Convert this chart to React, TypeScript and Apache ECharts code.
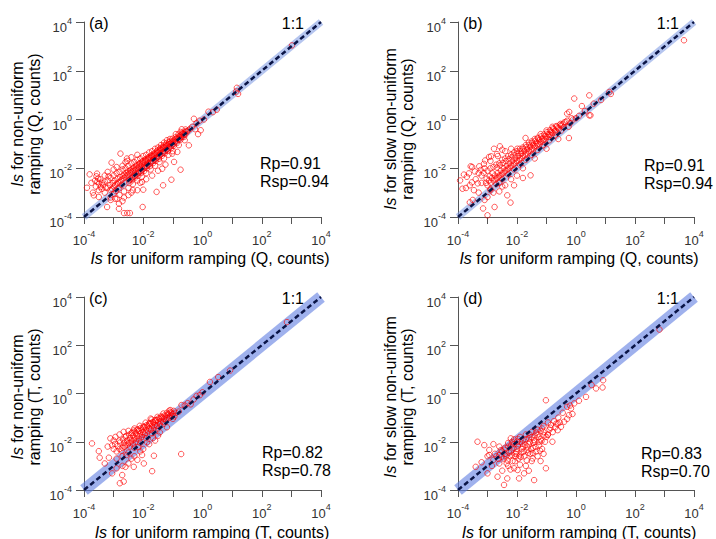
import React, { useEffect, useRef } from 'react';
import * as echarts from 'echarts';

const FONT = '"Liberation Sans", Arial, Helvetica, sans-serif';

// ---- text content ----
const panelLabels = ['(a)', '(b)', '(c)', '(d)'];
const xTitleRest = [
  ' for uniform ramping (Q, counts)',
  ' for uniform ramping (Q, counts)',
  ' for uniform ramping (T, counts)',
  ' for uniform ramping (T, counts)',
];
const yTitleLine1Rest = [' for non-uniform', ' for slow non-uniform', ' for non-uniform', ' for slow non-uniform'];
const yTitleLine2 = ['ramping (Q, counts)', 'ramping (Q, counts)', 'ramping (T, counts)', 'ramping (T, counts)'];
const rpValues = ['0.91', '0.91', '0.82', '0.83'];
const rspValues = ['0.94', '0.94', '0.78', '0.70'];

// ---- axes (log10 exponents) ----
const axisMin = -4;
const axisMax = 4;
const oneToOne: [number, number][] = [[-4, -4], [4, 4]];

// ---- data: [log10(x), log10(y)] ----
const panelA: [number, number][] = [
  [-0.42,-0.38],[-0.48,-0.45],[-0.52,-0.5],[-0.55,-0.48],[-0.58,-0.6],[-0.6,-0.52],[-0.63,-0.62],[-0.66,-0.58],[-0.68,-0.7],[-0.7,-0.62],
  [-0.73,-0.72],[-0.76,-0.66],[-0.78,-0.8],[-0.8,-0.7],[-0.83,-0.82],[-0.86,-0.76],[-0.88,-0.9],[-0.9,-0.8],[-0.93,-0.92],[-0.96,-0.85],
  [-0.98,-1.0],[-1.0,-0.9],[-1.03,-1.05],[-1.05,-0.95],[-1.08,-1.1],[-1.1,-1.0],[-1.12,-1.15],[-1.15,-1.02],[-1.18,-1.2],[-1.2,-1.08],
  [-1.22,-1.25],[-1.25,-1.12],[-1.28,-1.3],[-1.3,-1.15],[-1.33,-1.35],[-1.35,-1.2],[-1.38,-1.4],[-1.4,-1.25],[-1.43,-1.45],[-1.45,-1.3],
  [-1.48,-1.5],[-1.5,-1.35],[-1.53,-1.55],[-1.55,-1.4],[-1.58,-1.6],[-1.6,-1.45],[-1.63,-1.65],[-1.65,-1.5],[-1.68,-1.7],[-1.7,-1.52],
  [-1.73,-1.75],[-1.75,-1.58],[-1.78,-1.8],[-1.8,-1.6],[-1.83,-1.85],[-1.85,-1.65],[-1.88,-1.9],[-1.9,-1.7],[-1.93,-1.95],[-1.95,-1.75],
  [-1.98,-2.0],[-2.0,-1.8],[-2.03,-2.05],[-2.05,-1.85],[-2.08,-2.1],[-2.1,-1.9],[-2.13,-2.15],[-2.15,-1.95],[-2.18,-2.2],[-2.2,-2.0],
  [-2.23,-2.25],[-2.25,-2.05],[-2.28,-2.3],[-2.3,-2.08],[-2.33,-2.35],[-2.35,-2.12],[-2.38,-2.4],[-2.4,-2.15],[-2.43,-2.45],[-2.45,-2.2],
  [-2.48,-2.5],[-2.5,-2.25],[-2.55,-2.3],[-2.6,-2.35],[-2.65,-2.4],[-2.7,-2.45],[-2.75,-2.5],[-2.8,-2.55],[-2.85,-2.6],[-2.9,-2.65],
  [-2.95,-2.7],[-3.0,-2.75],[-3.05,-2.85],[-3.1,-2.9],
  [-0.7,-0.4],[-0.9,-0.6],[-1.1,-0.8],[-1.2,-0.85],[-1.3,-0.95],[-1.4,-1.05],[-1.5,-1.15],[-1.6,-1.2],[-1.7,-1.3],[-1.8,-1.35],
  [-1.9,-1.45],[-2.0,-1.5],[-2.1,-1.6],[-2.2,-1.65],[-2.3,-1.75],[-2.4,-1.8],[-2.5,-1.9],[-2.6,-2.0],[-2.7,-2.05],[-2.8,-2.15],
  [-2.9,-2.2],[-3.0,-2.3],[-3.1,-2.4],[-3.2,-2.5],[-3.3,-2.55],[-3.4,-2.6],
  [-0.6,-0.85],[-0.8,-1.05],[-1.0,-1.3],[-1.15,-1.45],[-1.3,-1.6],[-1.45,-1.75],[-1.6,-1.9],[-1.75,-2.05],[-1.9,-2.2],[-2.05,-2.35],
  [-2.2,-2.5],[-2.35,-2.65],[-2.5,-2.8],[-2.65,-2.95],[-2.8,-3.1],[-2.95,-3.25],[-3.1,-3.3],
  [-2.6,-1.75],[-2.7,-1.9],[-2.9,-1.95],[-3.0,-2.05],[-3.2,-2.15],[-3.3,-2.3],[-3.45,-2.45],[-3.55,-2.55],[-3.6,-2.75],[-3.75,-2.6],
  [-3.4,-2.85],[-3.3,-3.0],[-3.2,-2.8],[-3.5,-2.9],[-3.7,-3.0],[-2.55,-1.6],[-2.4,-1.55],[-2.2,-1.45],[-2.35,-2.9],[-2.5,-3.1],
  [-2.65,-3.2],[-2.7,-3.35],[-3.0,-3.05],[-3.1,-3.2],[-2.4,-3.0],[-2.1,-2.6],[-1.9,-2.45],[-1.7,-2.3],[-1.5,-2.1],[-1.25,-1.85],
  [-0.29,0.03],[-0.06,-0.44],[-0.74,-0.51],[-0.46,-1.06],[-0.85,-1.33],[-1.02,-1.4],[-0.96,-1.74],[-0.74,-2.06],[-1.36,-2.02],[-1.05,-2.47],
  [-1.33,-2.7],[-1.55,-2.97],[-2.0,-2.88],[-2.02,-3.59],[-2.77,-1.4],[-3.07,-1.77],[-2.54,-1.7],[-3.81,-2.25],[-3.56,-2.22],[-3.58,-2.33],
  [-3.9,-2.8],[-3.5,-2.63],[-3.67,-3.11],[-3.5,-3.18],[-3.22,-3.59],[-2.82,-3.45],[-2.82,-3.66],[-2.65,-3.84],[-2.54,-3.84],[-2.45,-3.84],
  [-2.88,-3.25],[-2.2,-2.9],[-2.04,-2.56],
  [-0.2,-0.15],[-0.1,-0.05],[0.05,0.0],[-0.35,-0.3],[0.2,0.32],[0.35,0.3],[0.48,0.4],[1.16,1.3],[1.2,1.05],[1.14,1.15],
  [3.02,3.04],[-0.25,-0.4],[-0.15,-0.6],
  [-0.57,-0.41],[-0.62,-0.71],[-0.69,-0.55],[-0.74,-0.83],[-0.81,-0.61],[-0.87,-0.97],[-0.91,-0.73],[-0.97,-1.08],[-1.01,-0.79],[-1.06,-1.17],
  [-1.09,-0.88],[-1.13,-0.93],[-1.17,-1.29],[-1.21,-0.97],[-1.24,-1.04],[-1.27,-1.38],[-1.31,-1.07],[-1.34,-1.13],[-1.37,-1.49],[-1.41,-1.17],
  [-1.44,-1.22],[-1.47,-1.61],[-1.51,-1.26],[-1.54,-1.31],[-1.57,-1.69],[-1.61,-1.37],[-1.64,-1.43],[-1.67,-1.79],[-1.71,-1.46],[-1.74,-1.49],
  [-1.77,-1.91],[-1.81,-1.55],[-1.84,-1.58],[-1.87,-2.0],[-1.91,-1.62],[-1.94,-1.66],[-1.97,-2.11],[-2.01,-1.71],[-2.04,-1.74],[-2.07,-2.19],
  [-2.11,-1.79],[-2.14,-1.83],[-2.17,-2.31],[-2.21,-1.87],[-2.24,-1.91],[-2.27,-2.38],[-2.31,-1.97],[-2.34,-2.01],[-2.37,-2.49],[-2.41,-2.05],
  [-2.44,-2.09],[-2.47,-2.61],[-2.51,-2.13],[-2.57,-2.19],[-2.63,-2.27],[-2.69,-2.31],[-2.73,-2.69],[-2.78,-2.36],[-2.83,-2.83],[-2.87,-2.43],
  [-2.93,-2.93],[-2.97,-2.51],[-3.03,-2.61],[-3.13,-2.69],[-3.17,-2.33],[-3.27,-2.79],[-3.36,-2.68],[-3.44,-2.77],[-3.52,-2.42],[-3.63,-2.51],
];

const panelB: [number, number][] = [
  [-0.3,-0.05],[-0.35,-0.1],[-0.4,-0.12],[-0.45,-0.2],[-0.5,-0.25],[-0.55,-0.22],[-0.6,-0.35],[-0.65,-0.3],[-0.7,-0.45],[-0.75,-0.4],
  [-0.8,-0.55],[-0.85,-0.5],[-0.9,-0.62],[-0.95,-0.6],[-1.0,-0.72],[-1.05,-0.68],[-1.1,-0.82],[-1.15,-0.78],[-1.2,-0.92],[-1.25,-0.85],
  [-1.3,-1.0],[-1.35,-0.95],[-1.4,-1.1],[-1.45,-1.05],[-1.5,-1.2],[-1.55,-1.12],[-1.6,-1.3],[-1.65,-1.22],[-1.7,-1.4],[-1.75,-1.3],
  [-1.8,-1.5],[-1.85,-1.4],[-1.9,-1.6],[-1.95,-1.5],[-2.0,-1.7],[-2.05,-1.6],[-2.1,-1.8],[-2.15,-1.7],[-2.2,-1.9],[-2.25,-1.8],
  [-2.3,-2.0],[-2.35,-1.9],[-2.4,-2.1],[-2.45,-2.0],[-2.5,-2.2],[-2.55,-2.1],[-2.6,-2.3],[-2.65,-2.2],[-2.7,-2.4],[-2.75,-2.3],
  [-2.8,-2.5],[-2.85,-2.4],[-2.9,-2.6],[-2.95,-2.5],[-3.0,-2.7],[-3.05,-2.6],
  [-0.5,-0.45],[-0.7,-0.65],[-0.9,-0.85],[-1.1,-1.05],[-1.3,-1.25],[-1.5,-1.45],[-1.7,-1.65],[-1.9,-1.85],[-2.1,-2.05],[-2.3,-2.25],
  [-2.5,-2.45],[-2.7,-2.65],[-2.9,-2.85],[-0.2,-0.15],[-0.1,0.0],[0.0,0.05],[-0.25,-0.3],
  [-0.8,-0.3],[-1.0,-0.45],[-1.2,-0.6],[-1.4,-0.8],[-1.6,-0.95],[-1.8,-1.15],[-2.0,-1.3],[-2.2,-1.45],[-2.4,-1.6],[-2.6,-1.8],
  [-2.8,-1.95],[-3.0,-2.1],[-3.2,-2.3],[-1.3,-0.75],[-1.5,-0.9],[-1.7,-1.05],[-1.9,-1.2],[-2.1,-1.35],[-2.3,-1.5],[-2.5,-1.65],
  [-2.7,-1.85],[-2.9,-2.0],
  [-0.6,-0.8],[-1.0,-1.2],[-1.4,-1.6],[-1.8,-2.0],[-2.2,-2.45],[-2.5,-2.75],[-2.8,-3.0],[-3.1,-3.3],[-2.0,-2.3],[-2.6,-2.95],
  [-3.8,-2.26],[-3.93,-2.5],[-3.57,-1.92],[-3.52,-1.95],[-3.85,-2.84],[-3.46,-2.9],[-3.0,-3.18],[-2.76,-3.59],[-2.22,-3.41],[-3.0,-3.93],
  [-2.33,-3.11],[-2.95,-1.54],[-3.12,-1.82],[-2.78,-1.2],[-2.5,-1.24],[-1.99,-1.2],[-1.71,-0.76],[-1.54,-2.29],[-3.3,-2.2],[-3.4,-2.45],
  [-3.2,-2.6],[-3.6,-2.7],[-3.7,-2.35],[-3.1,-2.0],[-2.9,-1.7],[-2.65,-1.5],[-2.4,-1.3],[-2.2,-1.2],[-2.6,-2.6],[-2.4,-2.7],
  [-3.3,-3.0],[-2.9,-2.9],[-3.5,-3.3],[-2.1,-2.7],[-1.8,-2.4],[-3.15,-3.65],[-3.6,-3.4],
  [3.66,3.25],[1.13,1.13],[1.18,1.05],[-0.06,0.86],[0.45,0.99],[0.45,0.17],[-0.23,0.31],[0.2,0.55],[-0.3,0.24],[0.49,0.17],
  [-0.24,-0.76],[0.1,0.15],[0.3,0.35],[0.6,0.65],[0.85,0.8],[-0.15,0.05],
  [-0.42,-0.31],[-0.52,-0.18],[-0.58,-0.41],[-0.67,-0.27],[-0.72,-0.53],[-0.78,-0.36],[-0.83,-0.64],[-0.88,-0.44],[-0.93,-0.71],[-0.98,-0.52],
  [-1.03,-0.81],[-1.08,-0.61],[-1.13,-0.9],[-1.18,-0.69],[-1.23,-1.01],[-1.28,-0.78],[-1.33,-1.09],[-1.38,-0.87],[-1.43,-1.19],[-1.48,-0.96],
  [-1.53,-1.28],[-1.58,-1.04],[-1.63,-1.39],[-1.68,-1.13],[-1.73,-1.47],[-1.78,-1.21],[-1.83,-1.58],[-1.88,-1.29],[-1.93,-1.67],[-1.98,-1.37],
  [-2.03,-1.77],[-2.08,-1.46],[-2.13,-1.86],[-2.18,-1.55],[-2.23,-1.97],[-2.28,-1.63],[-2.33,-2.06],[-2.38,-1.71],[-2.43,-2.17],[-2.48,-1.79],
  [-2.53,-2.27],[-2.58,-1.88],[-2.63,-2.36],[-2.68,-1.97],[-2.73,-2.46],[-2.83,-2.21],[-2.93,-2.33],[-3.03,-2.43],[-3.13,-2.19],[-3.23,-2.07],
  [-3.33,-2.62],[-3.43,-2.13],[-3.53,-2.58],[-3.63,-2.21],[-3.73,-2.81],[-3.28,-1.92],[-3.08,-1.68],[-2.88,-1.51],[-2.68,-1.42],[-2.58,-1.1],
];

const panelC: [number, number][] = [
  [-1.0,-0.85],[-1.05,-0.8],[-1.1,-0.95],[-1.15,-0.85],[-1.2,-1.0],[-1.25,-0.95],[-1.3,-1.05],[-1.35,-1.0],[-1.4,-1.15],[-1.45,-1.05],
  [-1.5,-1.2],[-1.55,-1.1],[-1.6,-1.3],[-1.65,-1.2],[-1.7,-1.35],[-1.75,-1.25],[-1.8,-1.45],[-1.85,-1.35],[-1.9,-1.5],[-1.95,-1.4],
  [-2.0,-1.6],[-2.05,-1.5],[-2.1,-1.65],[-2.15,-1.55],[-2.2,-1.75],[-2.25,-1.65],[-2.3,-1.85],[-2.35,-1.75],[-2.4,-1.95],[-2.45,-1.85],
  [-2.5,-2.05],[-2.55,-1.95],[-2.6,-2.15],[-2.65,-2.05],[-2.7,-2.25],[-2.8,-2.3],[-2.9,-2.4],[-1.3,-1.25],[-1.5,-1.45],[-1.7,-1.65],
  [-1.9,-1.85],[-2.1,-2.05],[-2.3,-2.25],[-2.5,-2.45],[-2.7,-2.6],[-1.2,-0.8],[-1.4,-0.95],[-1.6,-1.1],[-1.8,-1.25],[-2.0,-1.4],
  [-2.2,-1.5],[-2.4,-1.65],[-2.6,-1.8],[-2.8,-1.95],[-1.0,-1.05],[-0.9,-0.8],[-0.95,-0.95],[-0.8,-0.75],[-1.75,-1.5],[-1.95,-1.7],
  [-2.15,-1.9],[-2.35,-2.1],[-1.55,-1.35],[-2.05,-1.8],[-2.25,-2.0],[-2.45,-2.2],
  [-1.2,-1.4],[-1.5,-1.75],[-1.8,-2.1],[-2.1,-2.4],[-2.4,-2.7],[-2.7,-3.0],[-2.9,-3.1],[-2.0,-2.3],[-2.3,-2.6],[-1.6,-1.95],
  [-3.73,-2.07],[-3.5,-2.39],[-3.47,-2.66],[-3.16,-2.66],[-3.11,-1.86],[-2.94,-1.8],[-2.66,-1.59],[-1.75,-1.04],[-1.08,-0.69],[-0.72,-2.51],
  [-1.7,-3.22],[-2.71,-3.38],[-2.79,-3.72],[-2.66,-3.65],[-2.32,-3.04],[-2.6,-3.04],[-3.05,-3.31],[-2.04,-2.55],[-1.64,-2.58],[-1.98,-2.9],
  [-3.0,-2.3],[-3.2,-2.2],[-3.0,-1.95],[-2.8,-1.7],[-2.5,-1.55],[-2.3,-1.45],[-2.9,-2.7],[-3.3,-2.9],[-2.5,-2.9],[-2.2,-2.75],
  [-0.09,-0.07],[-0.71,-0.48],[0.25,0.48],[0.53,0.68],[0.93,0.95],[2.85,2.96],[-0.3,-0.25],[-0.2,-0.1],[-0.5,-0.4],[-0.6,-0.5],
  [0.0,0.05],[-0.4,-0.45],
  [-0.97,-0.72],[-1.03,-0.93],[-1.08,-0.78],[-1.13,-1.02],[-1.18,-0.88],[-1.23,-1.11],[-1.28,-0.91],[-1.33,-1.18],[-1.38,-0.99],[-1.43,-1.27],
  [-1.48,-1.03],[-1.53,-1.33],[-1.58,-1.12],[-1.63,-1.42],[-1.68,-1.18],[-1.73,-1.49],[-1.78,-1.22],[-1.83,-1.57],[-1.88,-1.31],[-1.93,-1.63],
  [-1.98,-1.36],[-2.03,-1.71],[-2.08,-1.43],[-2.13,-1.77],[-2.18,-1.49],[-2.23,-1.87],[-2.28,-1.58],[-2.33,-1.93],[-2.38,-1.62],[-2.43,-2.03],
  [-2.48,-1.71],[-2.53,-2.12],[-2.58,-1.76],[-2.63,-2.21],[-2.68,-1.91],[-2.73,-2.37],[-2.78,-2.03],[-2.86,-2.17],[-2.95,-2.09],[-3.05,-2.15],
  [-1.12,-0.71],[-1.32,-0.83],[-1.52,-0.97],[-1.72,-1.08],[-1.92,-1.21],[-2.12,-1.34],[-2.32,-1.53],[-1.44,-1.61],[-1.67,-1.85],[-1.87,-2.02],
  [-2.17,-2.22],[-2.57,-2.55],
];

const panelD: [number, number][] = [
  [-2.5,-2.4],[-2.4,-2.5],[-2.3,-2.2],[-2.2,-2.4],[-2.1,-2.1],[-2.0,-2.3],[-1.9,-2.0],[-1.8,-2.2],[-1.7,-1.9],[-1.6,-2.1],
  [-1.5,-1.8],[-1.4,-2.0],[-1.3,-1.7],[-1.2,-1.9],[-1.1,-1.6],[-1.0,-1.8],[-0.9,-1.5],[-2.45,-2.7],[-2.35,-2.9],[-2.25,-2.6],
  [-2.15,-2.8],[-2.05,-2.5],[-1.95,-2.7],[-1.85,-2.45],[-1.75,-2.6],[-1.65,-2.35],[-1.55,-2.5],[-1.45,-2.25],[-1.35,-2.4],[-1.25,-2.15],
  [-1.15,-2.3],[-2.6,-2.55],[-2.7,-2.6],[-2.8,-2.75],[-2.6,-2.9],[-2.3,-3.0],[-2.1,-3.1],[-1.9,-2.95],[-1.7,-3.0],[-1.5,-2.8],
  [-1.3,-2.6],[-1.9,-1.8],[-2.1,-1.9],[-2.3,-2.05],[-1.7,-1.7],[-1.5,-1.6],[-1.3,-1.5],[-1.1,-1.35],[-0.95,-1.2],[-0.85,-1.3],
  [-0.75,-1.15],[-0.7,-1.4],[-0.6,-1.0],[-0.55,-1.2],[-2.0,-2.0],[-1.8,-1.95],[-1.6,-1.85],[-1.4,-1.75],[-1.2,-1.55],[-2.2,-2.15],
  [-2.4,-2.25],[-2.55,-2.35],[-2.75,-2.5],[-1.65,-2.2],[-1.85,-2.3],[-2.05,-2.6],[-1.45,-2.05],[-1.05,-2.0],[-0.95,-1.7],[-1.25,-2.0],
  [-1.02,-0.28],[0.34,-0.14],[0.68,0.21],[0.9,0.25],[-0.06,-0.41],[-0.17,-0.62],[-0.4,-1.17],[-0.62,-1.25],[-0.12,-0.85],[-0.24,-0.9],
  [-0.3,-1.05],[-1.02,-3.1],[-1.42,-3.59],[-3.4,-3.04],[-3.34,-2.0],[-3.11,-2.14],[-2.94,-2.34],[-2.94,-2.55],[-2.66,-3.45],[-2.44,-3.79],
  [-2.33,-3.52],[-3.0,-3.31],[-1.98,-3.17],[-1.76,-3.31],[-1.93,-3.52],[-2.21,-1.86],[-2.6,-2.2],[-1.47,-2.69],[-0.96,-1.72],[-0.79,-1.6],
  [-0.62,-1.52],[-0.51,-1.38],[-2.8,-2.1],[-3.0,-2.6],[-2.5,-3.2],[-1.2,-2.8],[-2.85,-3.0],[-1.6,-3.2],[-1.1,-2.5],[-0.8,-2.0],
  [-3.2,-2.85],
  [2.83,2.65],[0.92,0.55],[0.53,0.35],[0.1,-0.3],[-0.3,-0.55],[-0.45,-0.8],[-0.2,-0.5],
  [-2.52,-2.62],[-2.42,-2.33],[-2.32,-2.77],[-2.27,-2.45],[-2.17,-2.55],[-2.12,-2.27],[-2.02,-2.43],[-1.97,-2.16],[-1.92,-2.58],[-1.82,-2.08],
  [-1.77,-2.41],[-1.72,-2.12],[-1.62,-2.46],[-1.57,-2.02],[-1.52,-2.31],[-1.42,-1.93],[-1.37,-2.21],[-1.27,-1.81],[-1.22,-2.37],[-1.17,-1.97],
  [-1.07,-1.73],[-1.97,-1.88],[-2.17,-2.01],[-1.57,-1.71],[-2.37,-2.61],[-2.07,-2.81],[-1.87,-2.63],[-1.67,-2.77],[-1.47,-2.47],[-2.62,-2.71],
  [-2.22,-3.15],[-1.35,-1.62],[-1.15,-1.45],[-0.87,-1.42],[-0.67,-1.25],
];

const panels = [panelA, panelB, panelC, panelD];

// ---- layout ----
const grids = [
  { left: 84, top: 22, width: 237, height: 195 },
  { left: 458, top: 22, width: 236, height: 195 },
  { left: 84, top: 297, width: 237, height: 193 },
  { left: 458, top: 297, width: 236, height: 193 },
];
const xTitleCenter = [[210, 258], [579, 258], [212, 532], [579, 532]];
const yTitleCenter = [[26, 124], [399, 129], [26, 397], [399, 397]];
const oneLabelRight = [304, 679, 304, 679];
const rpPos = [[260, 163], [644, 165], [262, 452], [641, 453]];
const bandWidth = [7, 7, 12, 12];
const bandColor = ['rgba(120,150,225,0.55)', 'rgba(120,150,225,0.55)', 'rgba(95,125,225,0.6)', 'rgba(95,125,225,0.6)'];

const tickRich = {
  b: { fontSize: 13, lineHeight: 18, verticalAlign: 'bottom', fontFamily: FONT, color: '#333' },
  s: { fontSize: 9, lineHeight: 7, verticalAlign: 'top', fontFamily: FONT, color: '#333' },
};

export default function App() {
  const ref = useRef<HTMLDivElement>(null);
  useEffect(() => {
    if (!ref.current) return;
    const chart = echarts.init(ref.current, undefined, { renderer: 'svg' });

    const xAxis = grids.map((_, i) => ({
      type: 'value',
      gridIndex: i,
      min: axisMin,
      max: axisMax,
      interval: 1,
      axisLine: { show: true, onZero: false, lineStyle: { color: '#555', width: 1 } },
      axisTick: { show: true, length: 7, lineStyle: { color: '#555', width: 1 } },
      splitLine: { show: false },
      axisLabel: {
        margin: 12,
        formatter: (v: number) => (Math.round(v) % 2 === 0 ? `{b|10}{s|${Math.round(v)}}` : ''),
        rich: tickRich,
      },
    }));
    const yAxis = grids.map((_, i) => ({
      type: 'value',
      gridIndex: i,
      min: axisMin,
      max: axisMax,
      interval: 2,
      axisLine: { show: true, onZero: false, lineStyle: { color: '#555', width: 1 } },
      axisTick: { show: true, length: 8, lineStyle: { color: '#555', width: 1 } },
      splitLine: { show: false },
      axisLabel: {
        margin: 12,
        padding: [6, 0, 0, 0],
        formatter: (v: number) => `{b|10}{s|${Math.round(v)}}`,
        rich: tickRich,
      },
    }));

    const series: any[] = [];
    panels.forEach((pts, i) => {
      series.push({
        type: 'line',
        xAxisIndex: i,
        yAxisIndex: i,
        data: oneToOne,
        showSymbol: false,
        symbol: 'none',
        silent: true,
        z: 1,
        lineStyle: { color: bandColor[i], width: bandWidth[i] },
      });
      series.push({
        type: 'scatter',
        xAxisIndex: i,
        yAxisIndex: i,
        data: pts,
        symbol: 'circle',
        symbolSize: 5.5,
        z: 2,
        itemStyle: { color: 'rgba(0,0,0,0)', borderColor: 'rgba(255,0,0,0.8)', borderWidth: 1 },
      });
      series.push({
        type: 'line',
        xAxisIndex: i,
        yAxisIndex: i,
        data: oneToOne,
        showSymbol: false,
        symbol: 'none',
        silent: true,
        z: 3,
        lineStyle: { color: '#0a1446', width: 2.5, type: [5, 3] },
      });
    });

    const graphic: any[] = [];
    grids.forEach((g, i) => {
      graphic.push({
        type: 'text', x: g.left + 5, y: g.top + 1,
        style: { text: panelLabels[i], fontSize: 16, fontFamily: FONT, fill: '#000', align: 'left', verticalAlign: 'middle' },
      });
      graphic.push({
        type: 'text', x: oneLabelRight[i], y: g.top + 1,
        style: { text: '1:1', fontSize: 16, fontFamily: FONT, fill: '#000', align: 'right', verticalAlign: 'middle' },
      });
      graphic.push({
        type: 'text', x: rpPos[i][0], y: rpPos[i][1],
        style: { text: `Rp=${rpValues[i]}`, fontSize: 16, fontFamily: FONT, fill: '#000', align: 'left', verticalAlign: 'middle' },
      });
      graphic.push({
        type: 'text', x: rpPos[i][0], y: rpPos[i][1] + 18,
        style: { text: `Rsp=${rspValues[i]}`, fontSize: 16, fontFamily: FONT, fill: '#000', align: 'left', verticalAlign: 'middle' },
      });
      graphic.push({
        type: 'text', x: xTitleCenter[i][0], y: xTitleCenter[i][1],
        style: {
          text: `{i|Is}{n|${xTitleRest[i]}}`,
          align: 'center', verticalAlign: 'middle',
          fontSize: 16, fontFamily: FONT, fill: '#000',
          rich: {
            i: { fontSize: 16, fontFamily: FONT, fontStyle: 'italic', fill: '#000' },
            n: { fontSize: 16, fontFamily: FONT, fill: '#000' },
          },
        },
      });
      graphic.push({
        type: 'text', x: yTitleCenter[i][0], y: yTitleCenter[i][1], rotation: Math.PI / 2,
        style: {
          text: `{i|Is}{n|${yTitleLine1Rest[i]}}\n{n|${yTitleLine2[i]}}`,
          align: 'center', verticalAlign: 'middle',
          fontSize: 16, fontFamily: FONT, fill: '#000',
          rich: {
            i: { fontSize: 16, lineHeight: 17, fontFamily: FONT, fontStyle: 'italic', fill: '#000' },
            n: { fontSize: 16, lineHeight: 17, fontFamily: FONT, fill: '#000' },
          },
        },
      });
    });

    chart.setOption({
      animation: false,
      backgroundColor: '#fff',
      textStyle: { fontFamily: FONT },
      grid: grids.map((g) => ({ ...g, containLabel: false })),
      xAxis,
      yAxis,
      series,
      graphic,
    });
    return () => chart.dispose();
  }, []);

  return (
    <div
      ref={ref}
      style={{ position: 'absolute', left: 0, top: 0, width: 716, height: 539, background: '#fff' }}
    />
  );
}
